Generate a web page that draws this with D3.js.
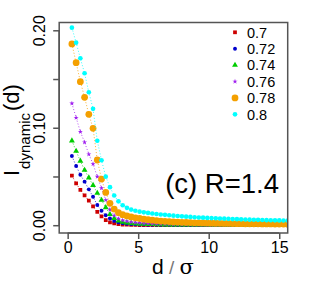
<!DOCTYPE html>
<html><head><meta charset="utf-8">
<script src="https://cdn.jsdelivr.net/npm/d3@7"></script>
<style>body{margin:0;background:#fff}svg{display:block}text{font-family:"Liberation Sans",Arial,sans-serif}</style>
</head><body>
<svg id="c" width="311" height="300"></svg>
<script>
const dVals = [0.3,0.6,0.9,1.2,1.5,1.8,2.1,2.4,2.7,3.0,3.3,3.6,3.9,4.2,4.5,4.8,5.1,5.4,5.7,6.0,6.3,6.6,6.9,7.2,7.5,7.8,8.1,8.4,8.7,9.0,9.3,9.6,9.9,10.2,10.5,10.8,11.1,11.4,11.7,12.0,12.3,12.6,12.9,13.2,13.5,13.8,14.1,14.4,14.7,15.0,15.3,15.6];
const s070 = [0.0508,0.0430,0.0362,0.0305,0.0252,0.0192,0.0136,0.0090,0.0052,0.0030,0.0018,0.0011,0.0007,0.0005,0.0004,0.0003,0.0002,0.0002,0.0002,0.0001,0.0001,0.0001,0.0001,0.0001,0.0001,0.0001,0.0001,0.0001,0.0001,0.0001,0.0001,0.0001,0.0001,0.0001,0.0001,0.0001,0.0001,0.0001,0.0001,0.0001,0.0001,0.0001,0.0001,0.0001,0.0001,0.0001,0.0001,0.0001,0.0001,0.0001,0.0001,0.0001];
const s072 = [0.0710,0.0608,0.0518,0.0447,0.0368,0.0292,0.0207,0.0149,0.0102,0.0068,0.0044,0.0029,0.0020,0.0015,0.0011,0.0009,0.0007,0.0006,0.0005,0.0004,0.0004,0.0003,0.0003,0.0003,0.0002,0.0002,0.0002,0.0002,0.0002,0.0002,0.0002,0.0002,0.0002,0.0002,0.0002,0.0002,0.0002,0.0002,0.0002,0.0002,0.0002,0.0002,0.0002,0.0002,0.0002,0.0002,0.0002,0.0002,0.0002,0.0002,0.0002,0.0002];
const s074 = [0.0867,0.0761,0.0659,0.0566,0.0487,0.0410,0.0330,0.0258,0.0182,0.0112,0.0070,0.0046,0.0033,0.0025,0.0020,0.0016,0.0013,0.0011,0.0009,0.0008,0.0007,0.0006,0.0005,0.0005,0.0004,0.0004,0.0003,0.0003,0.0003,0.0003,0.0003,0.0003,0.0003,0.0003,0.0003,0.0003,0.0003,0.0003,0.0003,0.0003,0.0003,0.0003,0.0003,0.0003,0.0003,0.0003,0.0003,0.0003,0.0003,0.0003,0.0003,0.0003];
const s076 = [0.1250,0.1103,0.0959,0.0851,0.0728,0.0628,0.0498,0.0380,0.0258,0.0160,0.0100,0.0068,0.0050,0.0040,0.0033,0.0028,0.0024,0.0021,0.0018,0.0016,0.0014,0.0013,0.0012,0.0011,0.0010,0.0009,0.0008,0.0008,0.0007,0.0007,0.0006,0.0006,0.0005,0.0005,0.0005,0.0004,0.0004,0.0004,0.0004,0.0004,0.0004,0.0003,0.0003,0.0003,0.0003,0.0003,0.0003,0.0003,0.0003,0.0003,0.0003,0.0003];
const s078 = [0.1860,0.1668,0.1473,0.1312,0.1138,0.0994,0.0669,0.0474,0.0336,0.0225,0.0165,0.0128,0.0108,0.0095,0.0085,0.0076,0.0069,0.0062,0.0056,0.0051,0.0047,0.0043,0.0040,0.0037,0.0034,0.0032,0.0030,0.0028,0.0027,0.0025,0.0024,0.0023,0.0022,0.0021,0.0020,0.0019,0.0018,0.0018,0.0017,0.0016,0.0016,0.0015,0.0015,0.0014,0.0014,0.0013,0.0013,0.0013,0.0012,0.0012,0.0012,0.0011];
const s080 = [0.2027,0.1873,0.1713,0.1559,0.1364,0.1194,0.0867,0.0667,0.0498,0.0390,0.0305,0.0245,0.0205,0.0178,0.0160,0.0148,0.0139,0.0132,0.0126,0.0120,0.0115,0.0110,0.0106,0.0102,0.0098,0.0094,0.0091,0.0088,0.0085,0.0082,0.0079,0.0077,0.0075,0.0073,0.0071,0.0069,0.0067,0.0065,0.0063,0.0062,0.0060,0.0059,0.0057,0.0056,0.0055,0.0053,0.0052,0.0051,0.0050,0.0049,0.0048,0.0047];
const seriesNames = ["0.7","0.72","0.74","0.76","0.78","0.8"];
const seriesValues = [s070,s072,s074,s076,s078,s080];
const yTicks = [0,0.05,0.10,0.15,0.20];
const yTickLabels = ["0.00","","0.10","","0.20"];
const xTicks = [0,5,10,15];
const xTickLabels = ["0","5","10","15"];

const colors = ["#CD0000","#0000CD","#00CD00","#A020F0","#F4A000","#00FFFF"];
const shapes = ["square","circle","triangle","star","bigcircle","circle2"];

const svg = d3.select("#c");
const L=59.2,R=287.7,T=22.5,B=233;
const x = d3.scaleLinear().domain([-0.6,15.6]).range([L,R]);
const y = d3.scaleLinear().domain([-0.008,0.208]).range([B,T]);
const axisCol="#555";

svg.append("defs").append("clipPath").attr("id","clip")
  .append("rect").attr("x",L).attr("y",T).attr("width",R-L).attr("height",B-T);

function symbolPath(shape){
  switch(shape){
    case "square": return d3.symbol(d3.symbolSquare,14)();
    case "circle": return d3.symbol(d3.symbolCircle,12)();
    case "triangle": return d3.symbol(d3.symbolTriangle,15)();
    case "star": return d3.symbol(d3.symbolStar,8)();
    case "bigcircle": return d3.symbol(d3.symbolCircle,36)();
    case "circle2": return d3.symbol(d3.symbolCircle,17)();
  }
}

const plot = svg.append("g").attr("clip-path","url(#clip)");
const line = d3.line().x(p=>x(p[0])).y(p=>y(p[1]));
seriesValues.forEach((vals,i)=>{
  const pts = dVals.map((d,j)=>[d,vals[j]]);
  plot.append("path").attr("d",line(pts)).attr("fill","none")
    .attr("stroke",colors[i]).attr("stroke-width",1).attr("stroke-dasharray","1,2").attr("opacity",0.8);
  const p = symbolPath(shapes[i]);
  plot.selectAll(null).data(pts).enter().append("path")
    .attr("d",p).attr("transform",q=>`translate(${x(q[0])},${y(q[1])})`)
    .attr("fill",colors[i]);
});

// box
svg.append("rect").attr("x",L).attr("y",T).attr("width",R-L).attr("height",B-T)
  .attr("fill","none").attr("stroke",axisCol).attr("stroke-width",1.5);

// y axis
const yAxis = d3.axisLeft(y).tickValues(yTicks).tickSize(6).tickFormat((d,i)=>yTickLabels[i]);
const gy = svg.append("g").attr("transform",`translate(${L},0)`).call(yAxis);
gy.select(".domain").attr("d",`M0,${y(0)}V${y(0.2)}`).attr("stroke",axisCol).attr("stroke-width",1.5);
gy.selectAll(".tick line").attr("stroke",axisCol).attr("stroke-width",1.5);
gy.selectAll(".tick text").attr("transform","rotate(-90)").attr("x",0).attr("y",-14)
  .attr("dy",0).attr("text-anchor","middle").attr("font-size",16).attr("fill","#000")
  .style("font-family","'Liberation Sans',Arial,sans-serif");

// x axis
const xAxis = d3.axisBottom(x).tickValues(xTicks).tickSize(6).tickFormat((d,i)=>xTickLabels[i]);
const gx = svg.append("g").attr("transform",`translate(0,${B})`).call(xAxis);
gx.select(".domain").attr("d",`M${x(0)},0H${x(15)}`).attr("stroke",axisCol).attr("stroke-width",1.5);
gx.selectAll(".tick line").attr("stroke",axisCol).attr("stroke-width",1.5);
gx.selectAll(".tick text").attr("y",20).attr("dy",0).attr("font-size",16).attr("fill","#000")
  .style("font-family","'Liberation Sans',Arial,sans-serif");

// x label
const xl = svg.append("text").attr("x",173).attr("y",274).attr("text-anchor","middle").attr("font-size",21);
xl.append("tspan").text("d");
xl.append("tspan").text(" / ").attr("fill","#777").attr("font-size",19);
xl.append("tspan").text("σ").style("font-family","'DejaVu Serif',serif");

// y label
const yl = svg.append("text").attr("transform","translate(19,176) rotate(-90)").attr("font-size",22);
yl.append("tspan").text("I");
yl.append("tspan").text("dynamic").attr("font-size",15).attr("dy",11).attr("dx",1);
yl.append("tspan").text("(d)").attr("dy",-11).attr("dx",2);

// annotation
svg.append("text").attr("x",279).attr("y",193).attr("text-anchor","end").attr("font-size",27.5).text("(c) R=1.4");

// legend
const lg = svg.append("g");
seriesNames.forEach((n,i)=>{
  const yy = 32.3 + i*16.4;
  lg.append("path").attr("d",symbolPath(shapes[i])).attr("transform",`translate(235,${yy})`).attr("fill",colors[i]);
  lg.append("text").attr("x",247).attr("y",yy+5.2).attr("font-size",14.5).text(n);
});
</script>
</body></html>
